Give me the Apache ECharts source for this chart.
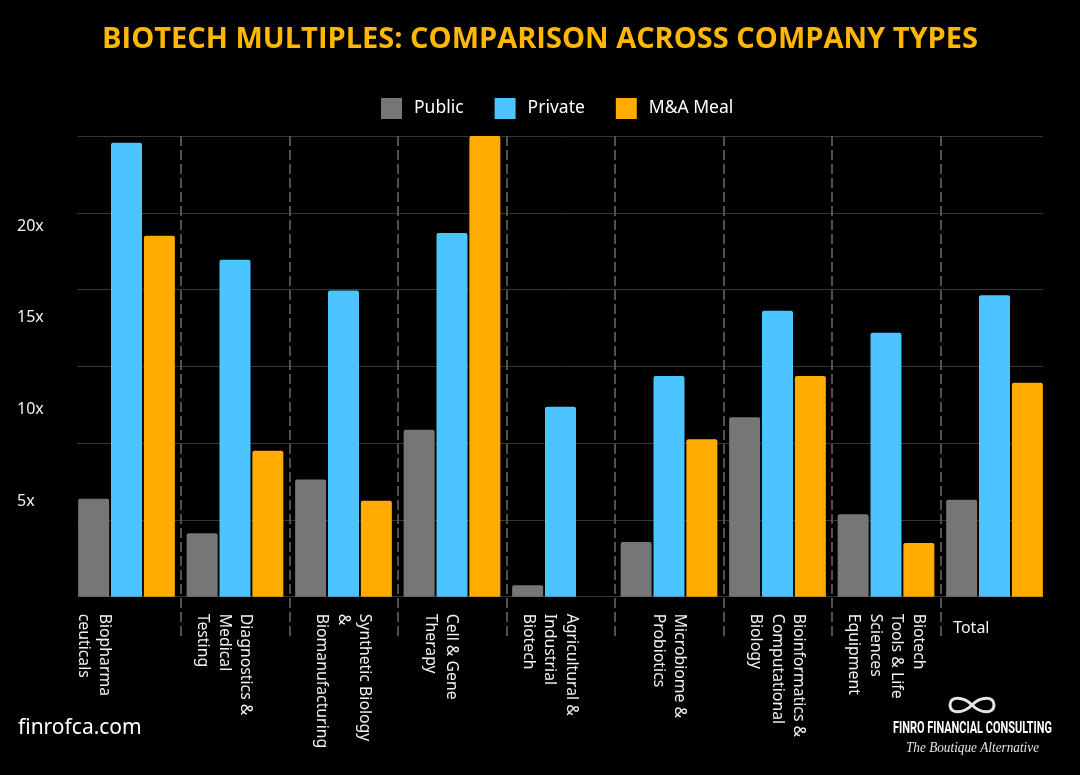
<!DOCTYPE html>
<html>
<head>
<meta charset="utf-8">
<title>Biotech Multiples</title>
<script src="https://cdn.jsdelivr.net/npm/echarts@6/dist/echarts.min.js"></script>
<style>
html, body { margin: 0; padding: 0; background: #000; }
#chart { width: 1080px; height: 775px; }
</style>
</head>
<body>
<div id="chart"></div>
<script>
// values
var categories = [
    'Biopharma\nceuticals',
    'Diagnostics &\nMedical\nTesting',
    'Synthetic Biology\n&\nBiomanufacturing',
    'Cell & Gene\nTherapy',
    'Agricultural &\nIndustrial\nBiotech',
    'Microbiome &\nProbiotics',
    'Bioinformatics &\nComputational\nBiology',
    'Biotech\nTools & Life\nSciences\nEquipment',
    'Total'
]
var seriesNames = ['Public', 'Private', 'M&A Meal']
var publicValues = [5.1, 3.3, 6.1, 8.7, 0.6, 2.85, 9.35, 4.3, 5.05]
var privateValues = [23.65, 17.55, 15.95, 18.95, 9.9, 11.5, 14.9, 13.75, 15.7]
var maValues = [18.8, 7.6, 5.0, 24.0, 0, 8.2, 11.5, 2.8, 11.15]
var yTickLabels = [5, 10, 15, 20]

var colors = ['#767676', '#4cc4ff', '#ffab00']
// empty lines put before each rotated label, to slide it sideways like the original
var labelLead = [3, 1, 0, 1, 1, 0, 0, 0, 0]

var font = 'Noto Sans'
var box = document.getElementById('chart')
var myChart = echarts.init(box)

// squeeze logo texts to the width they have in the original
function fitScale(text, cssFont, width) {
    var ctx = document.createElement('canvas').getContext('2d')
    ctx.font = cssFont
    return width / ctx.measureText(text).width
}

var barSeries = [publicValues, privateValues, maValues].map(function (vals, i) {
    return {
        name: seriesNames[i],
        type: 'bar',
        xAxisIndex: 0,
        yAxisIndex: 0,
        barWidth: 31,
        barGap: '6%',
        itemStyle: { color: colors[i], borderRadius: [2, 2, 0, 0] },
        data: vals
    }
})

// infinity mark of the logo, four curves
var logoStroke = { stroke: '#e6e6e6', lineWidth: 3, fill: 'none' }
var infinity = [
    [0, 8, 22, 8, 0, -1, 13, -1],
    [22, 8, 44, 8, 31, 17, 44, 17],
    [44, 8, 22, 8, 44, -1, 31, -1],
    [22, 8, 0, 8, 13, 17, 0, 17]
].map(function (c) {
    return {
        type: 'bezierCurve',
        x: 950,
        y: 697,
        shape: { x1: c[0], y1: c[1], x2: c[2], y2: c[3], cpx1: c[4], cpy1: c[5], cpx2: c[6], cpy2: c[7] },
        style: logoStroke
    }
})

var brandFont = 'bold 17px Roboto'
var brandText = 'FINRO FINANCIAL CONSULTING'
var tagFont = 'italic 15px "Liberation Serif"'
var tagText = 'The Boutique Alternative'

var options = {
    backgroundColor: '#000',
    title: {
        text: 'BIOTECH MULTIPLES: COMPARISON ACROSS COMPANY TYPES',
        left: 'center',
        top: 20,
        textStyle: {
            color: '#ffb703',
            fontSize: 29,
            fontWeight: 'bold',
            fontFamily: 'Open Sans'
        }
    },
    legend: {
        data: seriesNames,
        left: 381,
        top: 98,
        padding: 0,
        icon: 'rect',
        itemWidth: 21,
        itemHeight: 21,
        itemGap: 31,
        textStyle: { color: '#fff', fontSize: 17.5, fontFamily: font, padding: [0, 0, 0, 7] }
    },
    grid: [
        { left: 72.25, right: 31.25, top: 136, bottom: 178.3 },
        { left: 72.25, right: 31.25, top: 136, bottom: 138 },
        { left: 76, right: 37, top: 134.4, bottom: 182.3 },
        { left: 77.5, right: 37, top: 136, bottom: 178.3 }
    ],
    xAxis: [
        {
            type: 'category',
            gridIndex: 0,
            data: categories,
            axisLine: { show: false },
            axisTick: { show: false },
            splitLine: { show: false },
            axisLabel: {
                interval: 0,
                rotate: -90,
                margin: 17,
                color: '#f2f2f2',
                fontSize: 15.8,
                lineHeight: 21.5,
                fontFamily: font,
                formatter: function (v, i) {
                    if (v === 'Total') return ''
                    return new Array(labelLead[i] + 1).join('\n') + v
                }
            }
        },
        {
            type: 'category',
            gridIndex: 0,
            position: 'bottom',
            data: categories,
            axisLine: { show: false },
            axisTick: { show: false },
            splitLine: { show: false },
            axisLabel: {
                interval: 0,
                margin: 24,
                align: 'right',
                padding: [0, 5, 0, 0],
                color: '#f2f2f2',
                fontSize: 16,
                fontFamily: font,
                formatter: function (v) { return v === 'Total' ? v : '' }
            }
        },
        {
            // dashed separators between company types
            type: 'value',
            gridIndex: 1,
            min: 0,
            max: categories.length,
            interval: 1,
            axisLine: { show: false },
            axisTick: { show: false },
            axisLabel: { show: false },
            splitLine: {
                show: true,
                showMinLine: false,
                showMaxLine: false,
                lineStyle: { color: '#505050', width: 2, type: [10, 4] }
            }
        },
        { type: 'value', gridIndex: 2, show: false },
        { type: 'value', gridIndex: 3, show: false }
    ],
    yAxis: [
        {
            type: 'value',
            gridIndex: 0,
            min: 0,
            max: 24,
            show: false
        },
        { type: 'value', gridIndex: 1, show: false },
        {
            // tick labels, placed as in the original
            type: 'value',
            gridIndex: 2,
            min: 0,
            max: 25,
            interval: 5,
            axisLine: { show: false },
            axisTick: { show: false },
            splitLine: { show: false },
            axisLabel: {
                align: 'left',
                margin: 59,
                color: '#f2f2f2',
                fontSize: 16,
                fontFamily: font,
                formatter: function (v) {
                    return yTickLabels.indexOf(v) >= 0 ? v + 'x' : ''
                }
            }
        },
        {
            // horizontal grid lines
            type: 'value',
            gridIndex: 3,
            min: 0,
            max: 24,
            interval: 4,
            axisLine: { show: false },
            axisTick: { show: false },
            axisLabel: { show: false },
            splitLine: { lineStyle: { color: '#363636', width: 1 } }
        }
    ],
    graphic: [
        {
            type: 'text',
            x: 18,
            y: 718,
            style: { text: 'finrofca.com', fill: '#fff', font: '21px "Noto Sans"' }
        },
        {
            type: 'text',
            x: 893,
            y: 720,
            scaleX: fitScale(brandText, brandFont, 159),
            style: { text: brandText, fill: '#fff', font: brandFont }
        },
        {
            type: 'text',
            x: 906,
            y: 741,
            scaleX: fitScale(tagText, tagFont, 133),
            style: { text: tagText, fill: '#e6e6e6', font: tagFont }
        }
    ].concat(infinity),
    series: barSeries
}
myChart.setOption(options)
</script>
</body>
</html>
